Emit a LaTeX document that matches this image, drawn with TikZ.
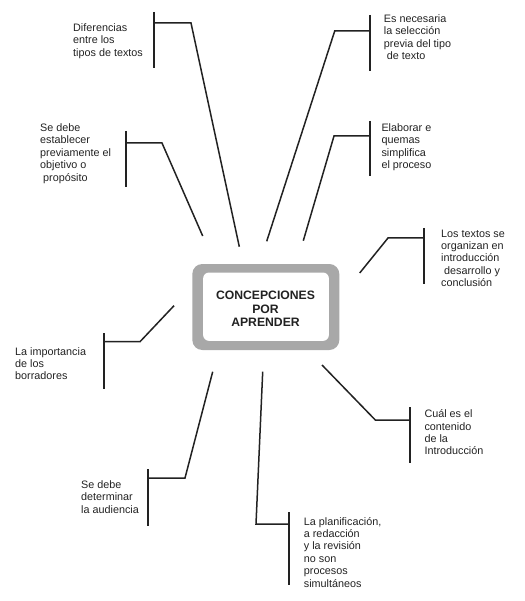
\documentclass[tikz,border=0pt]{standalone}
\usepackage{fontspec}
\setmainfont{Liberation Sans}
\usetikzlibrary{calc}
\definecolor{ink}{HTML}{222222}
\definecolor{frame}{HTML}{A8A8A8}
\tikzset{
  conn/.style={draw=ink, line width=1.5pt, line join=miter},
  brk/.style={draw=ink, line width=1.8pt},
  lbl/.style={anchor=north west, inner sep=0pt, align=left, text=ink,
              font=\fontsize{10.8}{12.4}\selectfont},
  outerbox/.style={fill=frame, rounded corners=10pt, minimum width=147pt,
              minimum height=86pt, inner sep=0pt},
  title/.style={inner sep=0pt, align=center, text=ink,
              font=\bfseries\fontsize{12.2}{13.3}\selectfont}
}
\begin{document}
\begin{tikzpicture}[x=1pt,y=-1pt]
\useasboundingbox (0,0) rectangle (524,601);
% central box
\node[outerbox] (c) at (265.8,307) {};
\fill[white, rounded corners=6pt] ($(c.north west)+(11,8.7)$) rectangle ($(c.south east)+(-10.6,-9.3)$);
\node[title] (ct) at (265.5,309) {CONCEPCIONES\\POR\\APRENDER};

% labels
\node[lbl] (t1) at (73,23.5) {Diferencias\\entre los\\tipos de textos};
\node[lbl] (t2) at (40,123.5) {Se debe\\establecer\\previamente el\\objetivo o\\\hspace*{3pt}propósito};
\node[lbl] (t3) at (383.7,14.5) {Es necesaria\\la selección\\previa del tipo\\\hspace*{3pt}de texto};
\node[lbl] (t4) at (381.3,123.5) {Elaborar e\\quemas\\simplifica\\el proceso};
\node[lbl] (t5) at (441,229.5) {Los textos se\\organizan en\\introducción\\\hspace*{3pt}desarrollo y\\conclusión};
\node[lbl] (t6) at (424.3,409.5) {Cuál es el\\contenido\\de la\\Introducción};
\node[lbl] (t7) at (303.7,517) {La planificación,\\a redacción\\y la revisión\\no son\\procesos\\simultáneos};
\node[lbl] (t8) at (81,480.5) {Se debe\\determinar\\la audiencia};
\node[lbl] (t9) at (15,347) {La importancia\\de los\\borradores};

% bracket coordinates
\coordinate (a1) at (154,12);    \coordinate (b1) at (154,68);   \coordinate (k1) at (154,23);   \coordinate (m1) at (191,23);   \coordinate (d1) at (239.3,246.7);
\coordinate (a2) at (126,131);   \coordinate (b2) at (126,187);  \coordinate (k2) at (126,143);  \coordinate (m2) at (162,143);  \coordinate (d2) at (202.7,236);
\coordinate (a3) at (369.7,15);  \coordinate (b3) at (369.7,71); \coordinate (k3) at (369.7,31); \coordinate (m3) at (334.7,31); \coordinate (d3) at (266.7,241.3);
\coordinate (a4) at (370,121);   \coordinate (b4) at (370,176);  \coordinate (k4) at (370,136);  \coordinate (m4) at (334,136);  \coordinate (d4) at (303.3,240.7);
\coordinate (a5) at (424.3,228); \coordinate (b5) at (424.3,284);\coordinate (k5) at (424.3,238);\coordinate (m5) at (388,238);  \coordinate (d5) at (359.7,273);
\coordinate (a6) at (410.3,407); \coordinate (b6) at (410.3,463);\coordinate (k6) at (410.3,420);\coordinate (m6) at (375.3,420);\coordinate (d6) at (322,365);
\coordinate (a7) at (289.3,512); \coordinate (b7) at (289.3,585);\coordinate (k7) at (289.3,524);\coordinate (m7) at (256,524);  \coordinate (d7) at (262.7,371.7);
\coordinate (a8) at (148,469);   \coordinate (b8) at (148,525.7);\coordinate (k8) at (148,478);  \coordinate (m8) at (185,478);  \coordinate (d8) at (212.7,371.7);
\coordinate (a9) at (104,333);   \coordinate (b9) at (104,389);  \coordinate (k9) at (104,341.7);\coordinate (m9) at (140,341.7);\coordinate (d9) at (174,305.7);

\foreach \i in {1,...,9}{
  \draw[brk] (a\i) -- (b\i);
  \draw[conn] (k\i) -- (m\i) -- (d\i);
}
\end{tikzpicture}
\end{document}
